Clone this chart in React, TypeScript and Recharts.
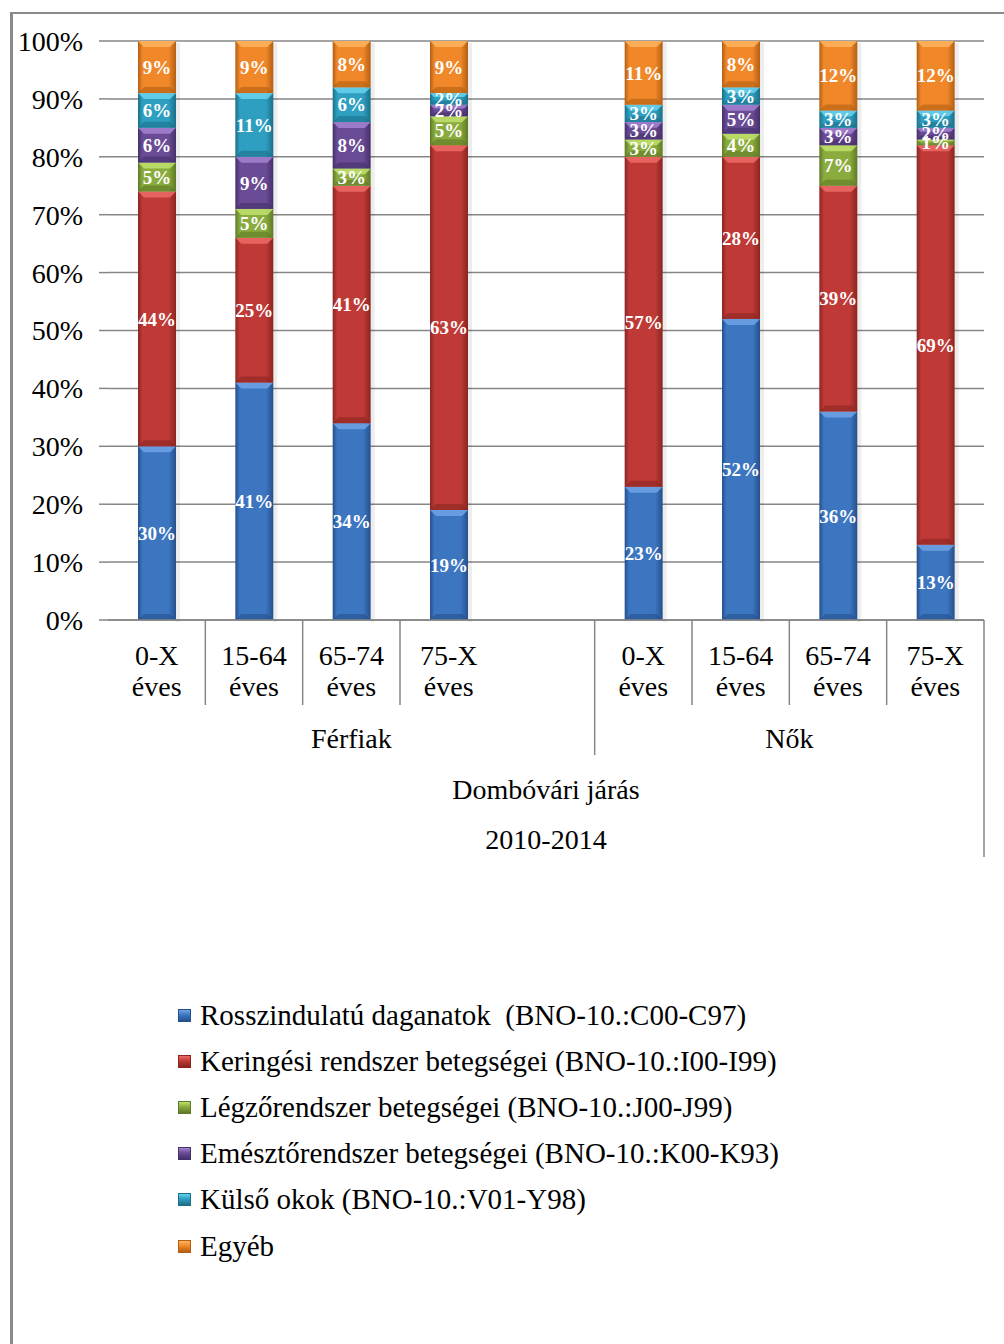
import { Bar, BarChart, CartesianGrid, LabelList, Legend, XAxis, YAxis } from "recharts";

const SERIF = '"Liberation Serif", "Times New Roman", serif';

const CATEGORY_KEYS = ["F0", "F15", "F65", "F75", "gap", "N0", "N15", "N65", "N75"];
const AGE_LABELS = ["0-X", "15-64", "65-74", "75-X", "", "0-X", "15-64", "65-74", "75-X"];
const GROUP_LABELS = ["Férfiak", "Nők"];
const AXIS_TITLE = ["Dombóvári járás", "2010-2014"];
const Y_TICKS = [0, 10, 20, 30, 40, 50, 60, 70, 80, 90, 100];

const MALIGNANT = [30, 41, 34, 19, null, 23, 52, 36, 13];
const CIRCULATORY = [44, 25, 41, 63, null, 57, 28, 39, 69];
const RESPIRATORY = [5, 5, 3, 5, null, 3, 4, 7, 1];
const DIGESTIVE = [6, 9, 8, 2, null, 3, 5, 3, 2];
const EXTERNAL = [6, 11, 6, 2, null, 3, 3, 3, 3];
const OTHER = [9, 9, 8, 9, null, 11, 8, 12, 12];

const SERIES = [
  { key: "malignant", name: "Rosszindulatú daganatok  (BNO-10.:C00-C97)", values: MALIGNANT, base: "#3d76c0", light: "#6fa3e6", dark: "#25508c" },
  { key: "circulatory", name: "Keringési rendszer betegségei (BNO-10.:I00-I99)", values: CIRCULATORY, base: "#bf3a36", light: "#ec6b66", dark: "#8a2522" },
  { key: "respiratory", name: "Légzőrendszer betegségei (BNO-10.:J00-J99)", values: RESPIRATORY, base: "#8aab3e", light: "#bfe06d", dark: "#5e7a26" },
  { key: "digestive", name: "Emésztőrendszer betegségei (BNO-10.:K00-K93)", values: DIGESTIVE, base: "#6a4b95", light: "#a583d2", dark: "#45306a" },
  { key: "external", name: "Külső okok (BNO-10.:V01-Y98)", values: EXTERNAL, base: "#2e9fc0", light: "#69d2ee", dark: "#1c6f88" },
  { key: "other", name: "Egyéb", values: OTHER, base: "#f0882a", light: "#ffb45e", dark: "#b35f12" },
];

const data = CATEGORY_KEYS.map((key, i) => {
  const row: Record<string, string | number | null> = { key, age: AGE_LABELS[i] };
  SERIES.forEach((s) => {
    row[s.key] = s.values[i];
  });
  return row;
});

function BevelBar(props: any) {
  const { x, y, width, height, fill, light, dark } = props;
  if (!height || height <= 0) return null;
  const b = Math.min(6, height / 3);
  return (
    <g>
      <rect x={x + width} y={y + 2} width={4} height={height} fill="#000" opacity={0.07} />
      <rect x={x} y={y} width={width} height={height} fill={fill} />
      <polygon
        points={`${x},${y} ${x + width},${y} ${x + width - b},${y + b} ${x + b},${y + b}`}
        fill={light}
        opacity={0.85}
      />
      <polygon
        points={`${x + b},${y + height - b} ${x + width - b},${y + height - b} ${x + width},${y + height} ${x},${y + height}`}
        fill={dark}
        opacity={0.6}
      />
    </g>
  );
}

function CategoryTick(props: any) {
  const { x, y, payload, index } = props;
  const half = payload?.offset ?? 48.7;
  const i = index as number;
  const line = (len: number) => (
    <line x1={x + half} x2={x + half} y1={y} y2={y + len} stroke="#868686" strokeWidth={1.5} />
  );
  const textStyle = { fontFamily: SERIF, fontSize: 28, fill: "#000" };
  return (
    <g>
      {AGE_LABELS[i] ? (
        <>
          <text x={x} y={y + 45} textAnchor="middle" {...textStyle}>{AGE_LABELS[i]}</text>
          <text x={x} y={y + 76} textAnchor="middle" {...textStyle}>éves</text>
        </>
      ) : null}
      {[0, 1, 2, 5, 6, 7].includes(i) && line(85)}
      {i === 4 && line(135)}
      {i === 8 && line(237)}
      {i === 2 && (
        <text x={x} y={y + 128} textAnchor="middle" {...textStyle}>{GROUP_LABELS[0]}</text>
      )}
      {i === 6 && (
        <text x={x + half} y={y + 128} textAnchor="middle" {...textStyle}>{GROUP_LABELS[1]}</text>
      )}
      {i === 4 && (
        <>
          <text x={x} y={y + 179} textAnchor="middle" {...textStyle}>{AXIS_TITLE[0]}</text>
          <text x={x} y={y + 229} textAnchor="middle" {...textStyle}>{AXIS_TITLE[1]}</text>
        </>
      )}
    </g>
  );
}

function renderLegend() {
  return (
    <ul style={{ listStyle: "none", margin: 0, padding: 0, fontFamily: SERIF, fontSize: 29, color: "#000" }}>
      {SERIES.map((s) => (
        <li key={s.key} style={{ height: 46.2, display: "flex", alignItems: "center", whiteSpace: "pre" }}>
          <span
            style={{
              display: "inline-block",
              width: 11,
              height: 11,
              marginRight: 9,
              background: `linear-gradient(${s.light}, ${s.base} 45%, ${s.dark})`,
              border: `1px solid ${s.dark}`,
            }}
          />
          {s.name}
        </li>
      ))}
    </ul>
  );
}

export default function App() {
  return (
    <div style={{ position: "absolute", left: 0, top: 0, width: 1004, height: 1344, background: "#fff", overflow: "hidden" }}>
      <div
        style={{
          position: "absolute",
          left: 10,
          top: 12,
          width: 994,
          height: 1332,
          borderLeft: "3px solid #8a8a8a",
          borderTop: "2px solid #8a8a8a",
          boxSizing: "border-box",
        }}
      />
      <BarChart
        width={1004}
        height={1344}
        data={data}
        margin={{ top: 41, right: 20, left: 12, bottom: 464 }}
        barSize={38}
        style={{ position: "absolute", left: 0, top: 0 }}
      >
        <defs>
          {SERIES.map((s) => (
            <linearGradient key={s.key} id={`grad-${s.key}`} x1="0" y1="0" x2="1" y2="0">
              <stop offset="0%" stopColor={s.dark} />
              <stop offset="12%" stopColor={s.base} />
              <stop offset="80%" stopColor={s.base} />
              <stop offset="100%" stopColor={s.dark} />
            </linearGradient>
          ))}
        </defs>
        <CartesianGrid vertical={false} stroke="#868686" strokeWidth={1.5} />
        <XAxis
          dataKey="key"
          interval={0}
          height={260}
          tickLine={false}
          tickSize={0}
          tickMargin={0}
          axisLine={{ stroke: "#868686", strokeWidth: 1.5 }}
          tick={<CategoryTick />}
        />
        <YAxis
          width={96}
          domain={[0, 100]}
          ticks={Y_TICKS}
          interval={0}
          axisLine={false}
          tickSize={9}
          tickMargin={16}
          tickLine={{ stroke: "#868686", strokeWidth: 1.5 }}
          tickFormatter={(v: number) => `${v}%`}
          tick={{ fill: "#000", fontSize: 28, fontFamily: SERIF }}
        />
        {SERIES.map((s) => (
          <Bar
            key={s.key}
            dataKey={s.key}
            name={s.name}
            stackId="a"
            fill={`url(#grad-${s.key})`}
            isAnimationActive={false}
            shape={(p: any) => <BevelBar {...p} light={s.light} dark={s.dark} />}
          >
            <LabelList
              dataKey={s.key}
              position="center"
              formatter={(v: any) => (v == null ? "" : `${v}%`)}
              style={{ fill: "#fff", fontSize: 19, fontWeight: "bold", fontFamily: SERIF }}
            />
          </Bar>
        ))}
        <Legend
          layout="vertical"
          align="center"
          verticalAlign="middle"
          content={renderLegend}
          wrapperStyle={{ top: 992, left: 178, width: "auto", height: "auto" }}
        />
      </BarChart>
    </div>
  );
}
